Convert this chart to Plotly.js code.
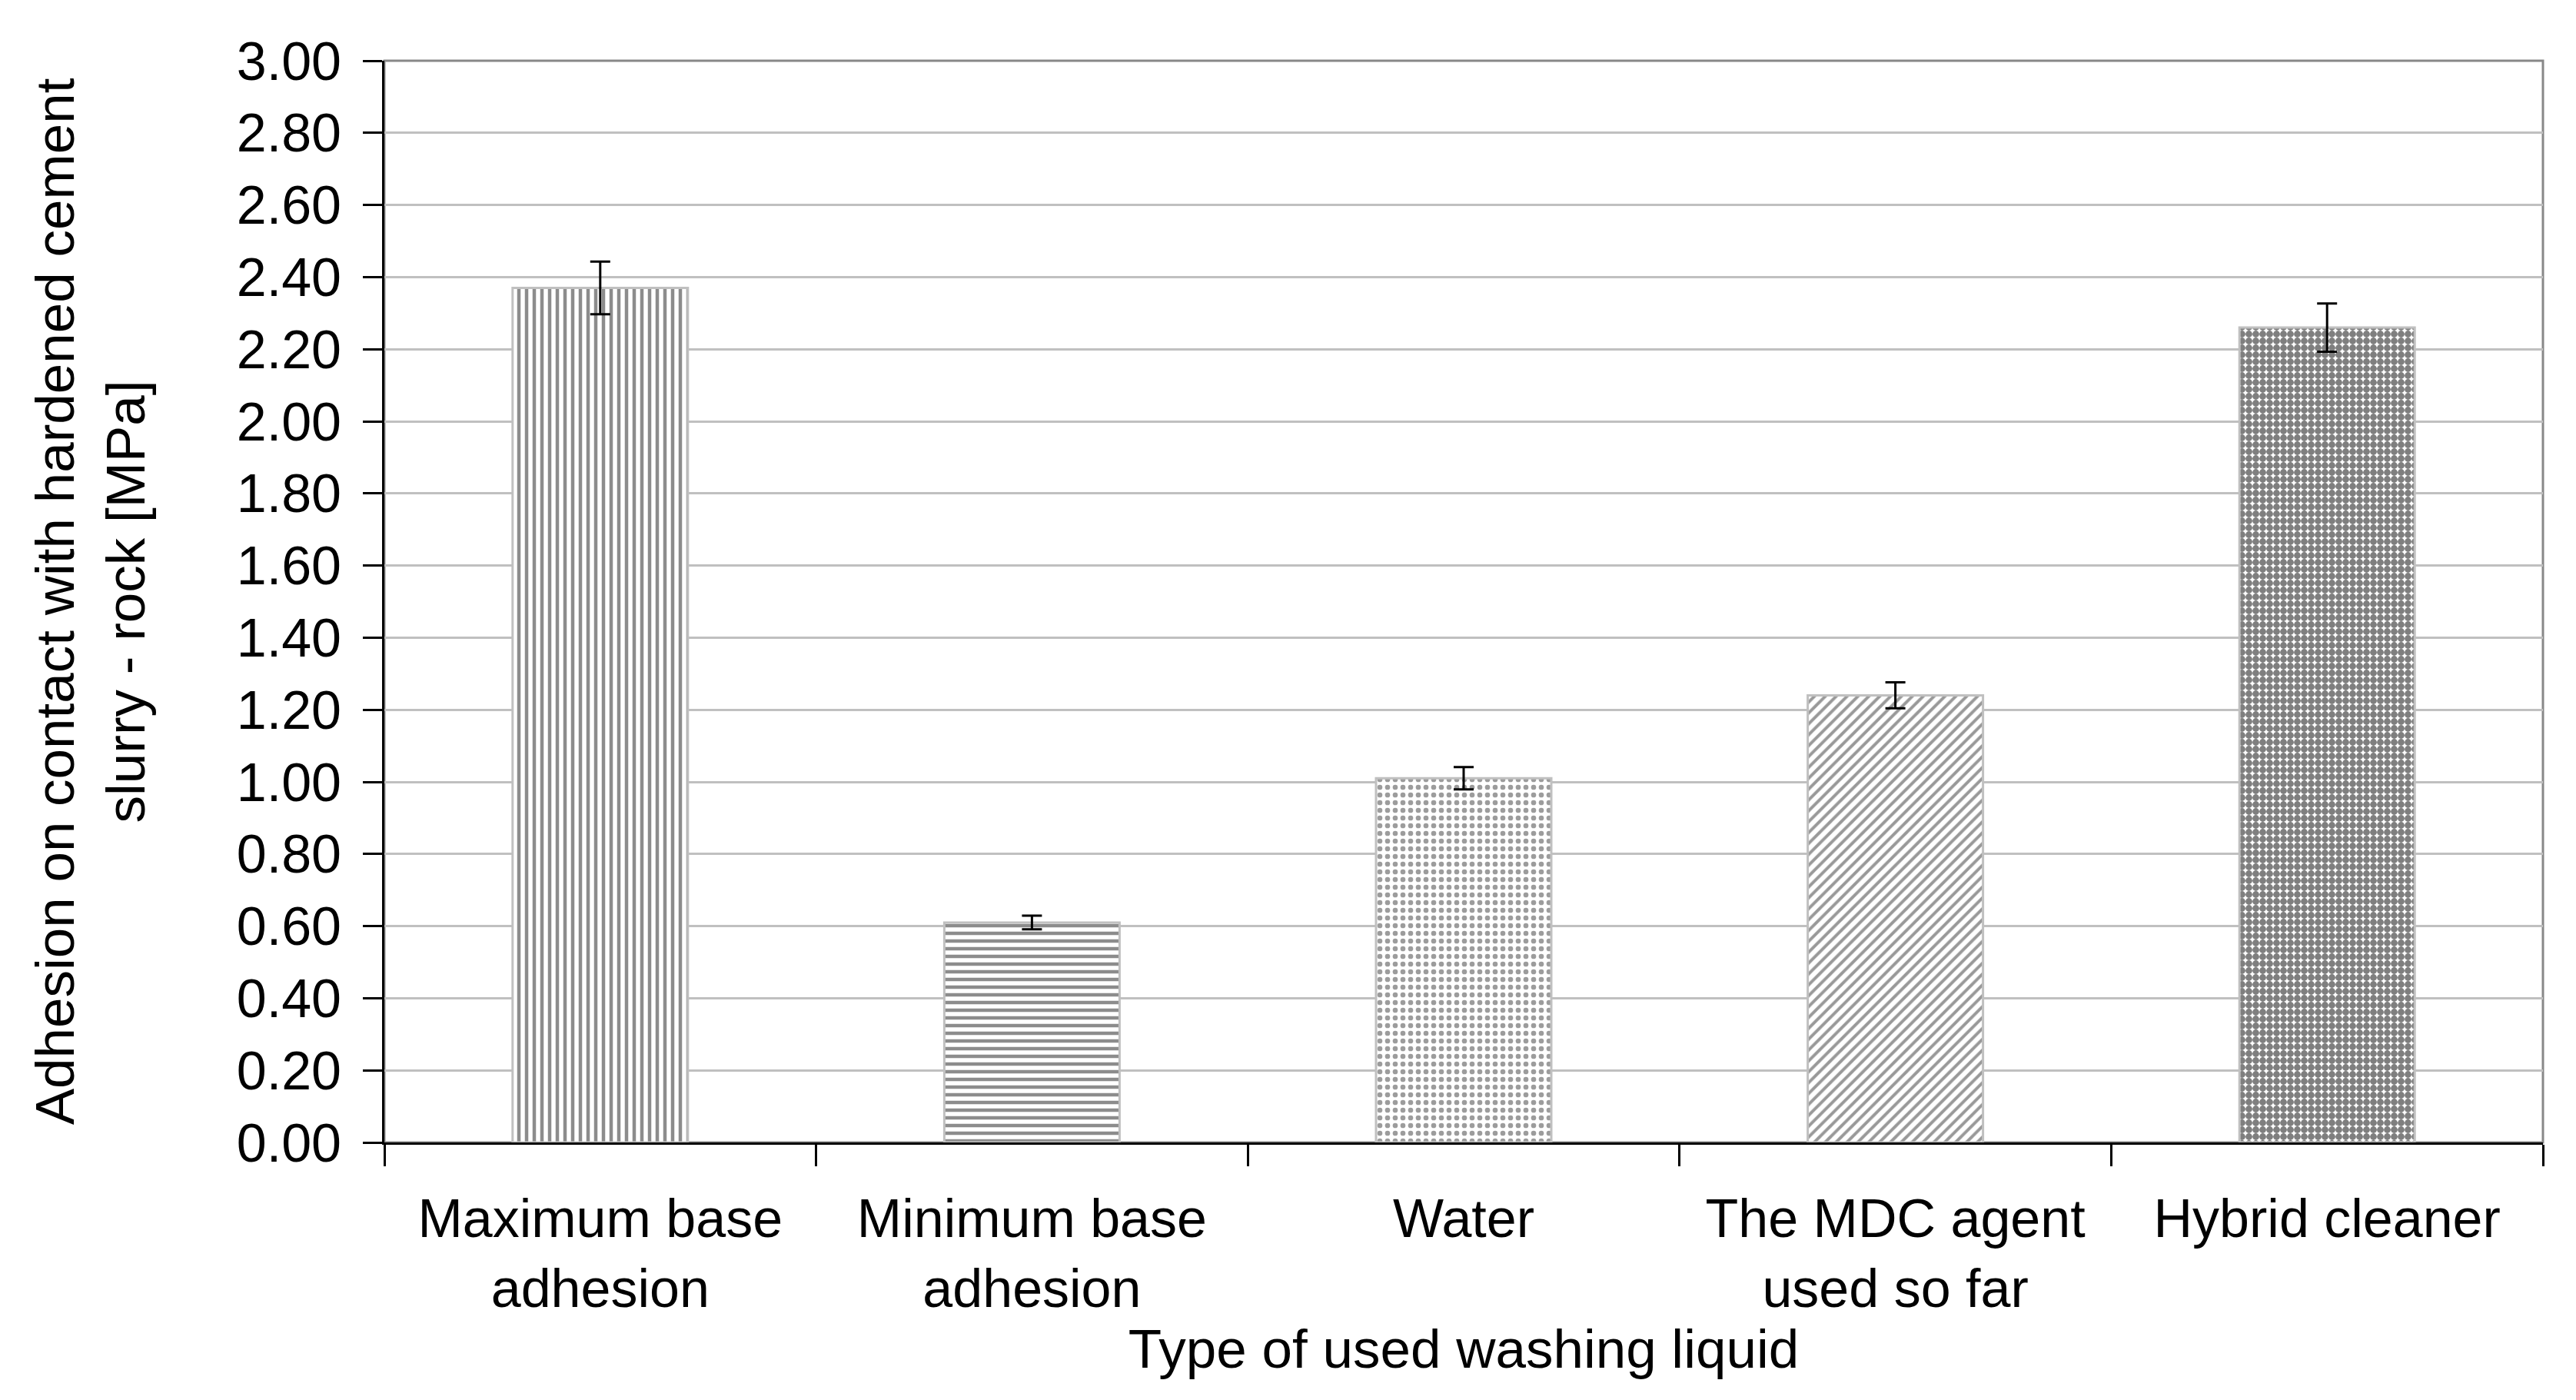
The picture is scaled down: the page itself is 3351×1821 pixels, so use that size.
<!DOCTYPE html>
<html>
<head>
<meta charset="utf-8">
<script src="https://cdn.plot.ly/plotly-3.0.1.min.js"></script>
<style>html,body{margin:0;padding:0;background:#fff;}#chart{width:3351px;height:1821px;}</style>
</head>
<body>
<div id="chart"></div>
<script>
var categories = ["Maximum base<br>adhesion", "Minimum base<br>adhesion", "Water", "The MDC agent<br>used so far", "Hybrid cleaner"];
var adhesion = [2.37, 0.61, 1.01, 1.24, 2.26];
var adhesionError = [0.073, 0.019, 0.031, 0.036, 0.067];
var yTickValues = [0, 0.2, 0.4, 0.6, 0.8, 1.0, 1.2, 1.4, 1.6, 1.8, 2.0, 2.2, 2.4, 2.6, 2.8, 3.0];

var patternShapes = ["|", "-", ".", "/", "."];
var patternFg = ["#1a1a1a", "#1a1a1a", "#3a3a3a", "#333333", "#000000"];
var patternSize = [10, 10, 10, 10, 9];
var patternSolidity = [0.45, 0.45, 0.35, 0.4, 0.75];

var font = "Liberation Sans, Arial, sans-serif";

var trace = {
  type: "bar",
  x: categories,
  y: adhesion,
  marker: {
    color: "#ffffff",
    line: {color: "#c0c0c0", width: 3},
    pattern: {
      shape: patternShapes,
      fgcolor: patternFg,
      bgcolor: "#ffffff",
      size: patternSize,
      solidity: patternSolidity,
      fillmode: "overlay"
    }
  },
  error_y: {
    type: "data",
    array: adhesionError,
    visible: true,
    color: "#000000",
    thickness: 3,
    width: 13
  },
  hoverinfo: "x+y"
};

var layout = {
  width: 3351,
  height: 1821,
  paper_bgcolor: "#ffffff",
  plot_bgcolor: "#ffffff",
  margin: {l: 500, r: 43, t: 79, b: 335},
  bargap: 0.594,
  showlegend: false,
  font: {family: font, size: 70, color: "#000000"},
  xaxis: {
    type: "category",
    showline: true,
    linecolor: "#000000",
    linewidth: 3,
    ticks: "outside",
    tickson: "boundaries",
    ticklen: 28,
    tickwidth: 3,
    tickcolor: "#000000",
    showgrid: false,
    ticklabelstandoff: 36,
    tickfont: {family: font, size: 70, color: "#000000"},
    title: {text: "Type of used washing liquid", font: {family: font, size: 71, color: "#000000"}, standoff: 8}
  },
  yaxis: {
    range: [0, 3],
    tickvals: yTickValues,
    tickformat: ".2f",
    showline: true,
    linecolor: "#000000",
    linewidth: 3,
    ticks: "outside",
    ticklen: 25,
    tickwidth: 3,
    tickcolor: "#000000",
    ticklabelstandoff: 14,
    showgrid: true,
    gridcolor: "#c0c0c0",
    gridwidth: 3,
    zeroline: false,
    tickfont: {family: font, size: 70, color: "#000000"},
    title: {text: "Adhesion on contact with hardened cement<br>slurry - rock [MPa]", font: {family: font, size: 71, color: "#000000"}, standoff: 96}
  },
  shapes: [{
    type: "rect", xref: "paper", yref: "paper", x0: 0, x1: 1, y0: 0, y1: 1,
    line: {color: "#888888", width: 3}, layer: "below"
  }]
};

Plotly.newPlot("chart", [trace], layout, {staticPlot: true, displayModeBar: false});
</script>
</body>
</html>
